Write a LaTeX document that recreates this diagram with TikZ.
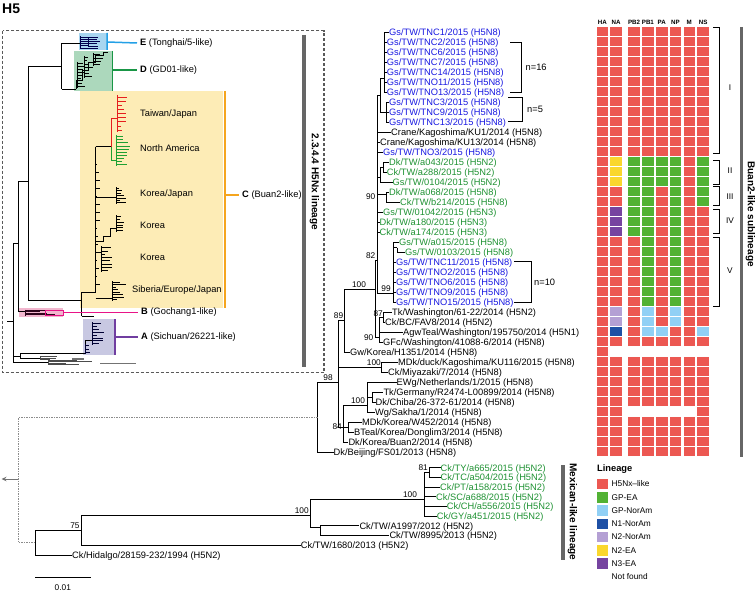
\documentclass[tikz,border=0pt]{standalone}
\usepackage{fontspec}
\setmainfont{Liberation Sans}
\usetikzlibrary{arrows.meta, calc}

\definecolor{tipblue}{RGB}{25,25,225}
\definecolor{tipgreen}{RGB}{30,145,50}
\definecolor{hfive}{RGB}{236,88,82}
\definecolor{gpea}{RGB}{82,178,52}
\definecolor{gpnoram}{RGB}{145,208,245}
\definecolor{nonenoram}{RGB}{30,80,165}
\definecolor{ntwonoram}{RGB}{180,160,212}
\definecolor{ntwoea}{RGB}{250,215,45}
\definecolor{nthreeea}{RGB}{118,68,160}
\definecolor{shadeE}{RGB}{168,214,240}
\definecolor{shadeD}{RGB}{172,216,188}
\definecolor{shadeC}{RGB}{253,236,182}
\definecolor{shadeB}{RGB}{242,182,206}
\definecolor{shadeA}{RGB}{200,200,226}
\definecolor{lineE}{RGB}{35,160,230}
\definecolor{lineD}{RGB}{25,150,70}
\definecolor{lineC}{RGB}{245,165,30}
\definecolor{lineB}{RGB}{232,20,135}
\definecolor{lineA}{RGB}{112,62,160}
\definecolor{subred}{RGB}{230,30,30}
\definecolor{subgreen}{RGB}{30,160,50}

\newcommand{\tipfont}{\fontsize{9.3}{11}\selectfont}
\newcommand{\bootfont}{\fontsize{8.3}{10}\selectfont}
\newcommand{\keyfont}{\fontsize{8.3}{10}\selectfont}
\newcommand{\barfont}{\fontsize{10}{12}\selectfont\bfseries}
\newcommand{\hdrfont}{\fontsize{6.2}{7}\selectfont\bfseries}

% comb of short twigs: x, top, bottom, count, longest, colour
\newcommand{\twigs}[6]{%
  \draw[inline, #6] (#1,#2) -- (#1,#3);
  \foreach \j in {1,...,#4}{
    \pgfmathsetmacro{\yy}{#2+(#3-#2)*(\j-0.5)/#4}
    \pgfmathsetmacro{\ll}{#5*(0.3+0.7*rnd)}
    \draw[inline, #6] (#1,\yy) -- ++(\ll,0);
  }%
}
% one segment cell: row, column, colour
\newcommand{\segcell}[3]{%
  \pgfmathsetmacro{\cx}{(#2<3) ? 596.5+13.7*(#2-1) : 628.3+13.8*(#2-3)}
  \pgfmathsetmacro{\cy}{27.3+10*(#1-1)}
  \fill[#3] (\cx,\cy) rectangle ++(11.6,8.4);
}

\begin{document}
\begin{tikzpicture}[x=1pt, y=-1pt,
    leaf/.style={anchor=west, inner sep=0pt, text height=6.7pt, text depth=0pt, font=\tipfont},
    boot/.style={inner sep=0pt, font=\bootfont},
    treeline/.style={line width=0.9pt},
    inline/.style={line width=0.6pt},
    lab/.style={anchor=west, inner sep=0pt, font=\tipfont},
    key/.style={anchor=west, inner sep=0pt, font=\keyfont},
    hdr/.style={anchor=base, inner sep=0pt, font=\hdrfont},
    bracket/.style={line width=0.8pt},
    lineagebar/.style={line width=3.2pt, black!60},
    link/.style={dash pattern=on 1.5pt off 1pt, line width=0.7pt, black!45},
    insetbox/.style={dash pattern=on 3pt off 2pt, line width=1.2pt, black!65}]
\useasboundingbox (0,0) rectangle (755,591);
\pgfmathsetseed{7}

\node[anchor=west, inner sep=0pt, font=\fontsize{14}{16}\selectfont\bfseries] (title) at (2,9) {H5};

% Inset
\draw[insetbox] (2.7,30.7) rectangle (324,372.7);
\fill[shadeE] (79,33) rectangle (107,50);
\fill[shadeD] (74,51) rectangle (112.7,91);
\fill[shadeC] (80,91) rectangle (223,308.3);
\fill[shadeB] (19,308.3) rectangle (63,317.3);
\fill[shadeA] (83.3,319) rectangle (115,355);

\draw[inline] (7,321.7) -- (13.3,321.7) (13.3,243.3) -- (13.3,362) (13.3,243.3) -- (18.3,243.3)
  (18.3,181.7) -- (18.3,311.7) (18.3,181.7) -- (28.3,181.7)
  (28.3,66.7) -- (28.3,300) (28.3,66.7) -- (61.7,66.7)
  (61.7,43.3) -- (61.7,89.3) (61.7,43.3) -- (80,43.3) (61.7,89.3) -- (76,89.3)
  (28.3,300) -- (81.7,300) (18.3,311.7) -- (25,311.7);
% clade E
\twigs{80}{36}{49}{6}{20}{black!70!blue}
\twigs{88}{38}{47}{4}{12}{black!70!blue}
% clade D
\draw[inline] (76,89.3) |- (82,80) |- (88,70) |- (95,62) |- (103,55) |- (108,52);
\twigs{77}{62}{88}{9}{11}{black}
\twigs{84}{56}{78}{7}{10}{black}
\twigs{93}{53}{66}{4}{12}{black}
% clade C
\draw[inline] (81.7,292) -- (81.7,316) (81.7,292) -- (95.5,292) (81.7,316) -- (94,316)
  (95.5,146.7) -- (95.5,292) (95.5,146.7) -- (111,146.7);
\draw[inline, subred] (111,146.7) |- (117,118);
\twigs{117}{95}{132}{9}{10}{subred}
\draw[inline, subgreen] (111,146.7) |- (116,160);
\twigs{116}{135}{166}{10}{14}{subgreen}
\draw[inline] (95.5,197) -- (116,197);
\twigs{116}{187}{204}{7}{10}{black}
\draw[inline] (95.5,241) -| (103,236) -| (110,228) -- (116,228);
\twigs{116}{215}{232}{6}{9}{black}
\draw[inline] (95.5,252) -- (101,252);
\twigs{101}{246}{272}{8}{12}{black}
\draw[inline] (95.5,298) -- (112,298);
\twigs{112}{281}{301}{8}{14}{black}
\twigs{95.5}{160}{288}{16}{5}{black}
% clade B
\twigs{25}{309.5}{315.5}{4}{36}{black!80!lineB}
\draw[inline, lineB] (45,310) rectangle (63,315);
% clade A and outgroups
\draw[inline] (13.3,356) -- (20,356) (20,353) -- (20,358) (20,353) -- (85,353);
\draw[inline] (85,353) |- (92,340);
\twigs{92}{322}{345}{8}{14}{black!80!blue}
\twigs{85}{344}{354}{3}{12}{black!80!blue}
\draw[inline] (20,358) -- (40,358);
\twigs{40}{356}{360}{3}{30}{black!70}
\draw[inline] (13.3,362) -- (48,362);
\twigs{48}{359.5}{365}{4}{45}{black!70}
\draw[line width=1.6pt, black!55] (100,363.5) -- (136,363.5) (72,359) -- (84,359);

% Clade labels
\node[lab] (cE) at (140,43) {\textbf{E} (Tonghai/5-like)};
\node[lab] (cD) at (140,70) {\textbf{D} (GD01-like)};
\node[lab] (cC) at (242,195) {\textbf{C} (Buan2-like)};
\node[lab] (cB) at (141,312.5) {\textbf{B} (Gochang1-like)};
\node[lab] (cA) at (141,337) {\textbf{A} (Sichuan/26221-like)};
\node[lab] (sTJ) at (140,114) {Taiwan/Japan};
\node[lab] (sNA) at (140,148) {North America};
\node[lab] (sKJ) at (140,194) {Korea/Japan};
\node[lab] (sK1) at (140,225.7) {Korea};
\node[lab] (sK2) at (140,257.3) {Korea};
\node[lab] (sSEJ) at (132,290) {Siberia/Europe/Japan};
\draw[line width=1.5pt, lineE] (107,33) -- (107,50) (107,42) -- ($(cE.west)+(-3,0)$);
\draw[line width=1.5pt, lineD] (112.7,51) -- (112.7,91) (112.7,70) -- ($(cD.west)+(-3,0)$);
\draw[line width=1.8pt, lineC] (225.3,91) -- (225.3,308.3) (225.3,195) -- ($(cC.west)+(-3,0)$);
\draw[line width=1.5pt, lineB] (63,312.5) -- ($(cB.west)+(-3,0)$);
\draw[line width=1.5pt, lineA] (115,319) -- (115,355) (115,337) -- ($(cA.west)+(-3,0)$);
\draw[lineagebar] (304,35) -- (304,366.7);
\node[rotate=-90, inner sep=0pt, font=\barfont] (lin2344) at (314.5,182) {2.3.4.4 H5Nx lineage};

% Tips
\foreach \k/\x/\cl/\txt in {1/389/tipblue/{Gs/TW/TNC1/2015 (H5N8)}, 2/386.7/tipblue/{Gs/TW/TNC2/2015 (H5N8)},
  3/386.7/tipblue/{Gs/TW/TNC6/2015 (H5N8)}, 4/386.7/tipblue/{Gs/TW/TNC7/2015 (H5N8)},
  5/386.7/tipblue/{Gs/TW/TNC14/2015 (H5N8)}, 6/386.7/tipblue/{Gs/TW/TNO11/2015 (H5N8)},
  7/386.7/tipblue/{Gs/TW/TNO13/2015 (H5N8)}, 8/389/tipblue/{Gs/TW/TNC3/2015 (H5N8)},
  9/389/tipblue/{Gs/TW/TNC9/2015 (H5N8)}, 10/389/tipblue/{Gs/TW/TNC13/2015 (H5N8)},
  11/391/black/{Crane/Kagoshima/KU1/2014 (H5N8)}, 12/380/black/{Crane/Kagoshima/KU13/2014 (H5N8)},
  13/383/tipblue/{Gs/TW/TNO3/2015 (H5N8)}, 14/389/tipgreen/{Dk/TW/a043/2015 (H5N2)},
  15/386.7/tipgreen/{Ck/TW/a288/2015 (H5N2)}, 16/392.5/tipgreen/{Gs/TW/0104/2015 (H5N2)},
  17/389/tipgreen/{Dk/TW/a068/2015 (H5N8)}, 18/400/tipgreen/{Ck/TW/b214/2015 (H5N8)},
  19/383/tipgreen/{Gs/TW/01042/2015 (H5N3)}, 20/379.5/tipgreen/{Dk/TW/a180/2015 (H5N3)},
  21/379.5/tipgreen/{Ck/TW/a174/2015 (H5N3)}, 22/399/tipgreen/{Gs/TW/a015/2015 (H5N8)},
  23/405/tipgreen/{Gs/TW/0103/2015 (H5N8)}, 24/396/tipblue/{Gs/TW/TNC11/2015 (H5N8)},
  25/396/tipblue/{Gs/TW/TNO2/2015 (H5N8)}, 26/396/tipblue/{Gs/TW/TNO6/2015 (H5N8)},
  27/396/tipblue/{Gs/TW/TNO9/2015 (H5N8)}, 28/396/tipblue/{Gs/TW/TNO15/2015 (H5N8)},
  29/392/black/{Tk/Washington/61-22/2014 (H5N2)}, 30/385/black/{Ck/BC/FAV8/2014 (H5N2)},
  31/403/black/{AgwTeal/Washington/195750/2014 (H5N1)}, 32/383/black/{GFc/Washington/41088-6/2014 (H5N8)},
  33/350/black/{Gw/Korea/H1351/2014 (H5N8)}, 34/398/black/{MDk/duck/Kagoshima/KU116/2015 (H5N8)},
  35/388/black/{Ck/Miyazaki/7/2014 (H5N8)}, 36/396.5/black/{EWg/Netherlands/1/2015 (H5N8)},
  37/383.3/black/{Tk/Germany/R2474-L00899/2014 (H5N8)}, 38/375.5/black/{Dk/Chiba/26-372-61/2014 (H5N8)},
  39/375/black/{Wg/Sakha/1/2014 (H5N8)}, 40/362/black/{MDk/Korea/W452/2014 (H5N8)},
  41/354/black/{BTeal/Korea/Donglim3/2014 (H5N8)}, 42/348.3/black/{Dk/Korea/Buan2/2014 (H5N8)},
  43/333.5/black/{Dk/Beijing/FS01/2013 (H5N8)}}
  \node[leaf, text=\cl] (t\k) at (\x,{32.5+10*(\k-1)}) {\txt};
\foreach \k/\x/\cl/\txt in {44/440.5/tipgreen/{Ck/TY/a665/2015 (H5N2)}, 45/440.5/tipgreen/{Ck/TC/a504/2015 (H5N2)},
  46/440/tipgreen/{Ck/PT/a158/2015 (H5N2)}, 47/436/tipgreen/{Ck/SC/a688/2015 (H5N2)},
  48/446.7/tipgreen/{Ck/CH/a556/2015 (H5N2)}, 49/436.7/tipgreen/{Ck/GY/a451/2015 (H5N2)},
  50/359.3/black/{Ck/TW/A1997/2012 (H5N2)}, 51/389.3/black/{Ck/TW/8995/2013 (H5N2)},
  52/300.7/black/{Ck/TW/1680/2013 (H5N2)}}
  \node[leaf, text=\cl] (t\k) at (\x,{467.7+9.66*(\k-44)}) {\txt};
\node[leaf] (t53) at (72,555.5) {Ck/Hidalgo/28159-232/1994 (H5N2)};

% Internal nodes
\coordinate (n98) at (317.7,417.7);
\coordinate (nX) at (338.3,382.7);
\coordinate (n89) at (344,320);
\coordinate (n100a) at (375.5,289.3);
\coordinate (n82) at (377.5,260);
\coordinate (nTN) at (380.7,95);
\coordinate (nC1) at (384,78);
\coordinate (nC2) at (386.7,112);
\coordinate (nII) at (380,177.5);
\coordinate (nIIa) at (383.3,167.5);
\coordinate (nIII) at (386.7,194);
\coordinate (n99) at (393.3,293);
\coordinate (n23) at (397,247.5);
\coordinate (n90) at (379.3,337.5);
\coordinate (n87) at (383.3,317.5);
\coordinate (nMK) at (381.7,367.5);
\coordinate (n84) at (343.3,427.5);
\coordinate (nEW) at (367.3,405);
\coordinate (nTD) at (372.3,397.5);
\coordinate (nBT) at (348.3,427.5);
\coordinate (nR) at (35,542.7);
\coordinate (n75) at (81.7,530);
\coordinate (nM100) at (310,515);
\coordinate (nTW) at (320,527);
\coordinate (nMX) at (424,499.3);
\coordinate (n81) at (429,472.5);

% Branches
\foreach \a/\b in {n98/nX, n98/t43.west, nX/n89, nX/nMK, nX/n84, n89/n100a, n89/t33.west,
  n100a/n82, n100a/n90, n82/nTN, n82/t11.west, n82/t12.west, n82/t13.west, n82/nII, n82/nIII,
  n82/t19.west, n82/t20.west, n82/t21.west, n82/n99, nTN/nC1, nTN/nC2,
  nC1/t1.west, nC1/t2.west, nC1/t3.west, nC1/t4.west, nC1/t5.west, nC1/t6.west, nC1/t7.west,
  nC2/t8.west, nC2/t9.west, nC2/t10.west, nII/nIIa, nII/t16.west, nIIa/t14.west, nIIa/t15.west,
  nIII/t17.west, nIII/t18.west, n99/t22.west, n99/n23, n23/t23.west,
  n99/t24.west, n99/t25.west, n99/t26.west, n99/t27.west, n99/t28.west,
  n90/n87, n90/t31.west, n90/t32.west, n87/t29.west, n87/t30.west, nMK/t34.west, nMK/t35.west,
  n84/nEW, n84/nBT, n84/t42.west, nEW/t36.west, nEW/nTD, nEW/t39.west, nTD/t37.west, nTD/t38.west,
  nBT/t40.west, nBT/t41.west,
  nR/n75, nR/t53.west, n75/nM100, n75/t52.west, nM100/nMX, nM100/nTW, nTW/t50.west, nTW/t51.west,
  nMX/n81, nMX/t46.west, nMX/t47.west, nMX/t48.west, nMX/t49.west, n81/t44.west, n81/t45.west}
  \draw[treeline] (\a) |- (\b);

% Support values
\node[boot, anchor=south] (b98) at (328,381) {98};
\node[boot, anchor=south] (b89) at (338.5,318.5) {89};
\node[boot, anchor=south] (b100a) at (359,288) {100};
\node[boot, anchor=south east] (b82) at (375.5,258.5) {82};
\node[boot, anchor=east] (b90a) at (375.5,196.7) {90};
\node[boot, anchor=south] (b99) at (386,291.5) {99};
\node[boot, anchor=east] (b87) at (383,313.5) {87};
\node[boot, anchor=east] (b90b) at (373.5,337.5) {90};
\node[boot, anchor=south east] (b100b) at (381,366) {100};
\node[boot, anchor=east] (b84) at (342,427) {84};
\node[boot, anchor=south] (b100c) at (358,403.5) {100};
\node[boot, anchor=south] (b75) at (75,528.5) {75};
\node[boot, anchor=south] (b100d) at (301.7,513.5) {100};
\node[boot, anchor=south] (b100e) at (410,498) {100};
\node[boot, anchor=east] (b81) at (428,468) {81};

% Link to the lower part and scale
\coordinate (lk) at (18.3,479);
\coordinate (lkend) at (1.5,479);
\draw[link] (n98) -| (lk) |- (nR);
\draw[-{Stealth[length=5pt, width=4.5pt]}, line width=0.9pt, black!55] (lk) -- (lkend);
\coordinate (sb1) at (35,577.7);
\coordinate (sb2) at (90.7,577.7);
\draw[treeline] (sb1) -- (sb2);
\node[boot] (sbl) at (62.8,587.5) {0.01};

% Group brackets
\draw[bracket] (510,42.5) -| (521.7,92.5) -- (510,92.5);
\node[lab] (g16) at (525.5,67.5) {n=16};
\draw[bracket] (508,97.7) -| (522.7,121.7) -- (508,121.7);
\node[lab] (g5) at (527,109) {n=5};
\draw[bracket] (514.3,261.7) -| (531,302.7) -- (514.3,302.7);
\node[lab] (g10) at (534,282) {n=10};

% Segment lineages
\foreach \n/\x in {HA/602.3, NA/616, PB2/634.1, PB1/647.9, PA/661.7, NP/675.5, M/689.3, NS/703.1}
  \node[hdr] (h\n) at (\x,25) {\n};
\foreach \k in {1,...,32,34,35,36,37,38,40,41,42,43}
  \foreach \c in {1,...,8}
    \segcell{\k}{\c}{hfive};
\segcell{33}{1}{hfive}
\foreach \c in {1,2,8}
  \segcell{39}{\c}{hfive};
\foreach \k in {14,15,16}
  \foreach \c/\f in {2/ntwoea,3/gpea,4/gpea,5/gpea,6/gpea,8/gpea}
    \segcell{\k}{\c}{\f};
\foreach \k in {17,18}
  \foreach \c in {3,4,6,8}
    \segcell{\k}{\c}{gpea};
\foreach \k in {19,20,21}
  \foreach \c/\f in {2/nthreeea,3/gpea,4/gpea,6/gpea}
    \segcell{\k}{\c}{\f};
\foreach \k in {22,...,28}
  \foreach \c in {4,6}
    \segcell{\k}{\c}{gpea};
\foreach \k in {29,30}
  \foreach \c/\f in {2/ntwonoram,4/gpnoram,6/gpnoram}
    \segcell{\k}{\c}{\f};
\foreach \c/\f in {2/nonenoram,4/gpnoram,5/gpnoram,8/gpnoram}
  \segcell{31}{\c}{\f};

\foreach \a/\b/\n/\ly in {27.3/153.3/I/88, 160/184/II/171, 186.7/205.7/III/196.2, 209.3/233.3/IV/221, 237.3/306.7/V/271}{
  \draw[bracket] (713,\a) -| (719,\b) -- (713,\b);
  \node[inner sep=0pt, font=\keyfont] (r\n) at (730,\ly) {\n};
}
\draw[lineagebar] (741.7,27) -- (741.7,457);
\node[rotate=-90, inner sep=0pt, font=\barfont] (sub) at (750.5,214) {Buan2-like sublineage};
\draw[lineagebar] (563,465) -- (563,560);
\node[rotate=-90, inner sep=0pt, font=\barfont] (mex) at (572.5,512) {Mexican-like lineage};

% Legend
\node[anchor=west, inner sep=0pt, font=\fontsize{9.3}{11}\selectfont\bfseries] (lg) at (597,469) {Lineage};
\foreach \i/\f/\txt in {0/hfive/H5Nx\textendash like, 1/gpea/GP-EA, 2/gpnoram/GP-NorAm, 3/nonenoram/N1-NorAm,
  4/ntwonoram/N2-NorAm, 5/ntwoea/N2-EA, 6/nthreeea/N3-EA}{
  \fill[\f] (597,{478.7+13.27*\i}) rectangle ++(11.2,10.6);
  \node[key] (k\i) at (611.5,{484+13.27*\i}) {\txt};
}
\node[key] (k7) at (611.5,577) {Not found};
\end{tikzpicture}
\end{document}
